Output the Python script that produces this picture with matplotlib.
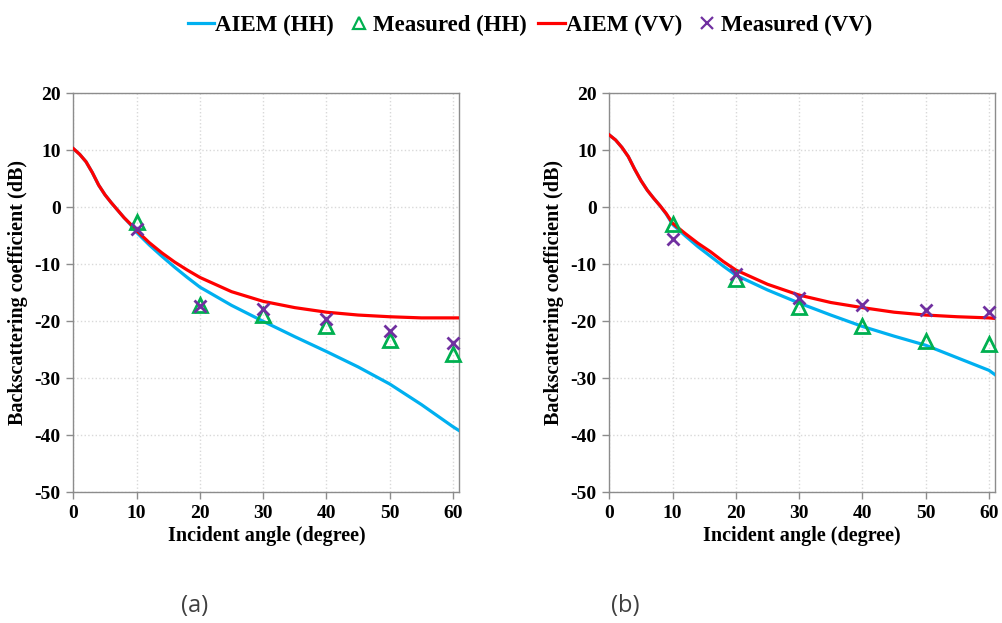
import matplotlib
matplotlib.use("Agg")
import matplotlib.pyplot as plt
from matplotlib.lines import Line2D

# ---------------- data ----------------
angles_curve = [0, 1, 2, 3, 4, 5, 6, 7, 8, 9, 10, 12, 14, 16, 18, 20, 25, 30, 35, 40, 45, 50, 55, 60, 61]

a_hh = [10.3, 9.3, 8.0, 6.1, 3.9, 2.2, 0.8, -0.5, -1.8, -3.0, -4.4, -6.6, -8.6, -10.5, -12.3,
        -14.0, -17.2, -20.0, -22.7, -25.3, -28.0, -31.0, -34.6, -38.5, -39.2]
a_vv = [10.3, 9.3, 8.0, 6.1, 3.9, 2.2, 0.8, -0.5, -1.8, -2.9, -4.1, -6.2, -8.0, -9.6, -11.0,
        -12.3, -14.8, -16.5, -17.6, -18.4, -18.9, -19.2, -19.4, -19.4, -19.4]

b_hh = [12.7, 11.8, 10.5, 8.9, 6.7, 4.7, 3.0, 1.6, 0.3, -1.2, -3.0, -5.0, -6.9, -8.6, -10.3,
        -11.9, -14.5, -16.8, -18.9, -20.9, -22.6, -24.2, -26.4, -28.6, -29.4]
b_vv = [12.7, 11.8, 10.5, 8.9, 6.7, 4.7, 3.0, 1.6, 0.3, -1.1, -2.8, -4.6, -6.3, -7.8, -9.5,
        -11.0, -13.5, -15.4, -16.7, -17.6, -18.4, -18.9, -19.2, -19.4, -19.5]

angles_meas = [10, 20, 30, 40, 50, 60]
a_meas_hh = [-2.6, -17.2, -18.9, -20.8, -23.2, -25.7]
a_meas_vv = [-3.8, -17.3, -17.9, -19.6, -21.7, -23.8]
b_meas_hh = [-2.9, -12.6, -17.5, -20.9, -23.4, -24.0]
b_meas_vv = [-5.5, -11.7, -15.9, -17.1, -18.0, -18.4]

x_ticks = [0, 10, 20, 30, 40, 50, 60]
y_ticks = [-50, -40, -30, -20, -10, 0, 10, 20]
panel_labels = ["(a)", "(b)"]

# ---------------- style ----------------
C_HH = "#00B0F0"
C_VV = "#FF0000"
C_MHH = "#00B050"
C_MVV = "#7030A0"
SERIF = ["Liberation Serif", "DejaVu Serif"]

plt.rcParams["font.family"] = SERIF
plt.rcParams["font.weight"] = "bold"
plt.rcParams["axes.unicode_minus"] = False

fig = plt.figure(figsize=(10.02, 6.23), dpi=100)

panels = [
    (a_hh, a_vv, a_meas_hh, a_meas_vv, [0.0732, 0.2098, 0.3852, 0.6404], 0.194),
    (b_hh, b_vv, b_meas_hh, b_meas_vv, [0.6081, 0.2098, 0.3852, 0.6404], 0.624),
]

for i, (hh, vv, mhh, mvv, rect, lx) in enumerate(panels):
    ax = fig.add_axes(rect)
    ax.plot(angles_curve, hh, color=C_HH, lw=2.3, zorder=3)
    ax.plot(angles_curve, vv, color=C_VV, lw=2.3, zorder=4)
    ax.plot(angles_meas, mhh, ls="none", marker="^", ms=9.5, mfc="none",
            mec=C_MHH, mew=2.0, zorder=5, clip_on=False)
    ax.plot(angles_meas, mvv, ls="none", marker="x", ms=8.5, mec=C_MVV,
            mew=2.0, zorder=6, clip_on=False)
    ax.set_xlim(0, 61)
    ax.set_ylim(-50, 20)
    ax.set_xticks(x_ticks)
    ax.set_yticks(y_ticks)
    ax.grid(True, color="#d9d9d9", ls=":", lw=1.0)
    ax.set_axisbelow(True)
    for sp in ax.spines.values():
        sp.set_color("#8c8c8c")
        sp.set_linewidth(1.0)
    ax.tick_params(direction="out", length=5, width=1.0, color="#8c8c8c",
                   labelsize=14, pad=4)
    for lab in ax.get_xticklabels() + ax.get_yticklabels():
        lab.set_fontweight("bold")
    ax.set_xlabel("Incident angle (degree)", fontsize=14.5, fontweight="bold", labelpad=3)
    ax.set_ylabel("Backscattering coefficient (dB)", fontsize=14.5, fontweight="bold", labelpad=5)
    fig.text(lx, 0.027, panel_labels[i],
             fontsize=17, family=["Open Sans", "DejaVu Sans"], fontweight="normal",
             color="#404040", ha="center", va="center")

handles = [
    Line2D([], [], color=C_HH, lw=2.3),
    Line2D([], [], ls="none", marker="^", ms=8, mfc="none", mec=C_MHH, mew=1.6),
    Line2D([], [], color=C_VV, lw=2.3),
    Line2D([], [], ls="none", marker="x", ms=8, mec=C_MVV, mew=1.6),
]
labels = ["AIEM (HH)", "Measured (HH)", "AIEM (VV)", "Measured (VV)"]
fig.legend(handles, labels, loc="upper center", bbox_to_anchor=(0.529, 1.01), ncol=4,
           frameon=False, prop={"family": SERIF, "weight": "bold", "size": 16.5},
           handlelength=1.15, handletextpad=0.05, columnspacing=0.5)

fig.savefig("out.png", dpi=100)
